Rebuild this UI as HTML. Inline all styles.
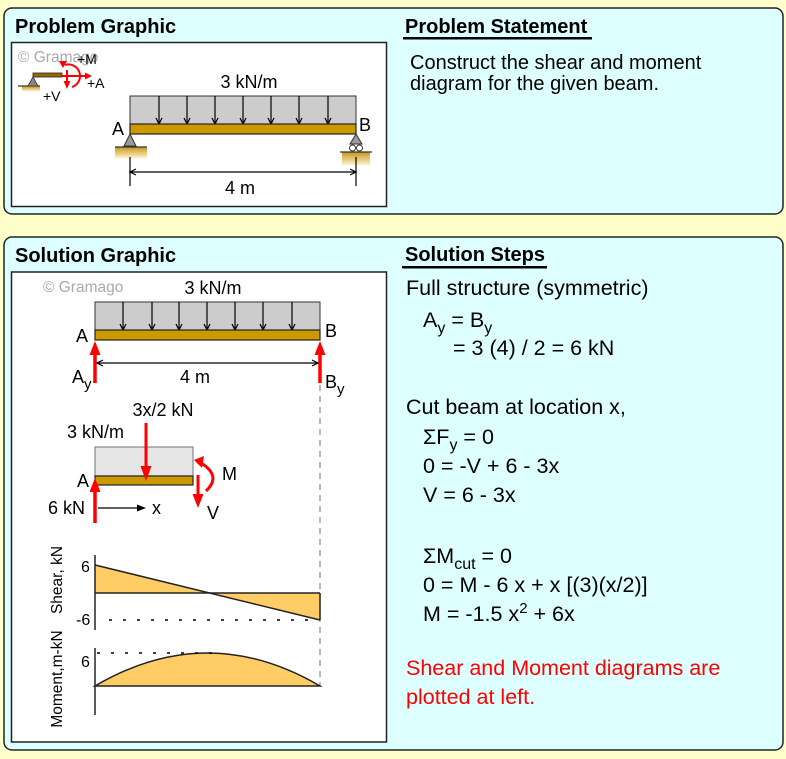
<!DOCTYPE html>
<html><head><meta charset="utf-8"><style>
html,body{margin:0;padding:0;background:#FFFFCC;}
svg{display:block;}
text{font-family:"Liberation Sans",Arial,sans-serif;}
</style></head><body>
<svg width="786" height="759" viewBox="0 0 786 759" xmlns="http://www.w3.org/2000/svg">
<defs>
<linearGradient id="gnd" x1="0" y1="0" x2="0" y2="1">
<stop offset="0" stop-color="#C99A1E"/><stop offset="1" stop-color="#FFF6D8"/>
</linearGradient>
</defs>
<rect x="0" y="0" width="786" height="759" fill="#FFFFCC"/>
<!-- Panels -->
<rect x="4" y="8" width="779" height="206" rx="8" fill="#DDFFFF" stroke="#222" stroke-width="1.5"/>
<rect x="4" y="237" width="779" height="513" rx="8" fill="#DDFFFF" stroke="#222" stroke-width="1.5"/>
<rect x="11.5" y="42.5" width="375" height="164" fill="#fff" stroke="#222" stroke-width="1.5"/>
<rect x="11.5" y="272" width="375" height="470" fill="#fff" stroke="#222" stroke-width="1.5"/>

<!-- Headings -->
<text x="15" y="33" font-size="20" font-weight="bold" fill="#000">Problem Graphic</text>
<text x="405" y="33" font-size="20" font-weight="bold" fill="#000">Problem Statement</text>
<rect x="403" y="37" width="189" height="2.5" fill="#000"/>
<text x="15" y="262" font-size="20" font-weight="bold" fill="#000">Solution Graphic</text>
<text x="405" y="261" font-size="20" font-weight="bold" fill="#000">Solution Steps</text>
<rect x="402" y="266" width="145" height="2.5" fill="#000"/>

<!-- Problem statement -->
<text x="410" y="69" font-size="20" fill="#000">Construct the shear and moment</text>
<text x="410" y="90" font-size="20" fill="#000">diagram for the given beam.</text>

<!-- Solution steps -->
<g font-size="21.5" fill="#000">
<text x="406" y="295">Full structure (symmetric)</text>
<text x="423" y="327">A<tspan font-size="16" dy="6">y</tspan><tspan dy="-6"> = B</tspan><tspan font-size="16" dy="6">y</tspan></text>
<text x="453" y="355">= 3 (4) / 2 = 6 kN</text>
<text x="406" y="414">Cut beam at location x,</text>
<text x="423" y="444">ΣF<tspan font-size="16" dy="6">y</tspan><tspan dy="-6"> = 0</tspan></text>
<text x="423" y="473">0 = -V + 6 - 3x</text>
<text x="423" y="502">V = 6 - 3x</text>
<text x="423" y="563">ΣM<tspan font-size="16" dy="6">cut</tspan><tspan dy="-6"> = 0</tspan></text>
<text x="423" y="592">0 = M - 6 x + x [(3)(x/2)]</text>
<text x="423" y="621">M = -1.5 x<tspan font-size="15" dy="-8">2</tspan><tspan dy="8"> + 6x</tspan></text>
<text x="406" y="675" fill="#FF0000">Shear and Moment diagrams are</text>
<text x="406" y="704" fill="#FF0000">plotted at left.</text>
</g>

<!-- ===== Problem graphic ===== -->
<text x="18" y="62" font-size="15.5" fill="#AAAAAA">© Gramago</text>
<!-- sign convention icon -->
<line x1="18" y1="86" x2="40" y2="86" stroke="#333" stroke-width="1.2"/>
<rect x="22" y="86.5" width="18" height="5" fill="url(#gnd)"/>
<polygon points="33,77 28,86 38,86" fill="#888" stroke="#333" stroke-width="0.8"/>
<rect x="33" y="73" width="29" height="4" fill="#996600" stroke="#222" stroke-width="0.8"/>
<line x1="67" y1="70" x2="67" y2="82" stroke="#FF0000" stroke-width="2"/>
<polygon points="63.5,81 70.5,81 67,89" fill="#FF0000"/>
<line x1="61" y1="76" x2="85" y2="76" stroke="#FF0000" stroke-width="2"/>
<polygon points="85,72.5 85,79.5 92,76" fill="#FF0000"/>
<path d="M72 87 A11 11 0 0 0 65 65" fill="none" stroke="#FF0000" stroke-width="2"/>
<polygon points="59,61 67,61 63,68" fill="#FF0000"/>
<text x="77" y="64" font-size="14" fill="#000">+M</text>
<text x="87" y="88" font-size="14" fill="#000">+A</text>
<text x="43" y="101" font-size="14" fill="#000">+V</text>

<!-- main beam -->
<text x="249" y="88" font-size="18" text-anchor="middle" fill="#000">3 kN/m</text>
<rect x="130" y="96" width="226" height="28" fill="#CCCCCC" stroke="#333" stroke-width="1"/>
<g stroke="#000" stroke-width="1.2">
<line x1="159" y1="96" x2="159" y2="122"/><line x1="187" y1="96" x2="187" y2="122"/>
<line x1="215" y1="96" x2="215" y2="122"/><line x1="243" y1="96" x2="243" y2="122"/>
<line x1="271" y1="96" x2="271" y2="122"/><line x1="299" y1="96" x2="299" y2="122"/>
<line x1="328" y1="96" x2="328" y2="122"/>
</g>
<g fill="none" stroke="#000" stroke-width="1.2">
<polyline points="156,118 159,124 162,118"/><polyline points="184,118 187,124 190,118"/>
<polyline points="212,118 215,124 218,118"/><polyline points="240,118 243,124 246,118"/>
<polyline points="268,118 271,124 274,118"/><polyline points="296,118 299,124 302,118"/>
<polyline points="325,118 328,124 331,118"/>
</g>
<rect x="130" y="124" width="226" height="10" fill="#CC9900" stroke="#222" stroke-width="1.2"/>
<text x="112" y="135" font-size="18" fill="#000">A</text>
<text x="359" y="131" font-size="18" fill="#000">B</text>
<!-- support A -->
<rect x="115" y="147.5" width="32" height="11" fill="url(#gnd)"/>
<line x1="115" y1="147" x2="147" y2="147" stroke="#333" stroke-width="1.2"/>
<polygon points="130,134 124,146 136,146" fill="#999" stroke="#333" stroke-width="1"/>
<!-- support B -->
<rect x="342" y="152.5" width="28" height="13" fill="url(#gnd)"/>
<line x1="340" y1="152" x2="372" y2="152" stroke="#333" stroke-width="1.2"/>
<polygon points="356,134 350,144 362,144" fill="#999" stroke="#333" stroke-width="1"/>
<circle cx="352.5" cy="148" r="3" fill="#fff" stroke="#333" stroke-width="1"/>
<circle cx="359.5" cy="148" r="3" fill="#fff" stroke="#333" stroke-width="1"/>
<!-- dimension -->
<g stroke="#000" stroke-width="1.2" fill="none">
<line x1="130" y1="157" x2="130" y2="186"/><line x1="356" y1="157" x2="356" y2="186"/>
<line x1="130" y1="172" x2="356" y2="172"/>
<polyline points="136,169 130,172 136,175"/><polyline points="350,169 356,172 350,175"/>
</g>
<text x="240" y="194" font-size="18" text-anchor="middle" fill="#000">4 m</text>

<!-- ===== Solution graphic ===== -->
<text x="43" y="292" font-size="15.5" fill="#AAAAAA">© Gramago</text>
<text x="213" y="294" font-size="18" text-anchor="middle" fill="#000">3 kN/m</text>
<rect x="95" y="302" width="225" height="28" fill="#CCCCCC" stroke="#333" stroke-width="1"/>
<g stroke="#000" stroke-width="1.2">
<line x1="123" y1="302" x2="123" y2="328"/><line x1="152" y1="302" x2="152" y2="328"/>
<line x1="179" y1="302" x2="179" y2="328"/><line x1="207" y1="302" x2="207" y2="328"/>
<line x1="235" y1="302" x2="235" y2="328"/><line x1="263" y1="302" x2="263" y2="328"/>
<line x1="292" y1="302" x2="292" y2="328"/>
</g>
<g fill="none" stroke="#000" stroke-width="1.2">
<polyline points="120,324 123,330 126,324"/><polyline points="149,324 152,330 155,324"/>
<polyline points="176,324 179,330 182,324"/><polyline points="204,324 207,330 210,324"/>
<polyline points="232,324 235,330 238,324"/><polyline points="260,324 263,330 266,324"/>
<polyline points="289,324 292,330 295,324"/>
</g>
<rect x="95" y="330" width="225" height="10" fill="#CC9900" stroke="#222" stroke-width="1.2"/>
<text x="76" y="342" font-size="18" fill="#000">A</text>
<text x="325" y="337" font-size="18" fill="#000">B</text>
<!-- dashed line -->
<line x1="320" y1="385" x2="320" y2="686" stroke="#888" stroke-width="1.2" stroke-dasharray="6,5"/>
<!-- reactions -->
<line x1="95" y1="383" x2="95" y2="353" stroke="#FF0000" stroke-width="3.5"/>
<polygon points="95,341 89.5,355 100.5,355" fill="#FF0000"/>
<line x1="320" y1="383" x2="320" y2="353" stroke="#FF0000" stroke-width="3.5"/>
<polygon points="320,341 314.5,355 325.5,355" fill="#FF0000"/>
<!-- dimension -->
<line x1="97" y1="363" x2="318" y2="363" stroke="#000" stroke-width="1.2"/>
<polyline points="103,360 97,363 103,366" fill="none" stroke="#000" stroke-width="1.2"/>
<polyline points="312,360 318,363 312,366" fill="none" stroke="#000" stroke-width="1.2"/>
<text x="195" y="383" font-size="18" text-anchor="middle" fill="#000">4 m</text>
<text x="72" y="383" font-size="18" fill="#000">A<tspan font-size="15" dy="6">y</tspan></text>
<text x="325" y="388" font-size="18" fill="#000">B<tspan font-size="15" dy="6">y</tspan></text>

<!-- free body -->
<text x="163" y="416" font-size="18" text-anchor="middle" fill="#000">3x/2 kN</text>
<text x="67" y="438" font-size="18" fill="#000">3 kN/m</text>
<rect x="95" y="447" width="98" height="29" fill="#E6E6E6" stroke="#888" stroke-width="1.2"/>
<rect x="95" y="476" width="98" height="9" fill="#CC9900" stroke="#222" stroke-width="1.2"/>
<line x1="146" y1="423" x2="146" y2="467" stroke="#FF0000" stroke-width="3"/>
<polygon points="146,481 140.5,466 151.5,466" fill="#FF0000"/>
<text x="77" y="487" font-size="18" fill="#000">A</text>
<line x1="95" y1="523" x2="95" y2="490" stroke="#FF0000" stroke-width="3.5"/>
<polygon points="95,478 89.5,492 100.5,492" fill="#FF0000"/>
<text x="48" y="514" font-size="18" fill="#000">6 kN</text>
<line x1="98" y1="508" x2="139" y2="508" stroke="#000" stroke-width="1.2"/>
<polygon points="146,508 137,504.5 137,511.5" fill="#000"/>
<text x="152" y="514" font-size="18" fill="#000">x</text>
<line x1="198" y1="475" x2="198" y2="495" stroke="#FF0000" stroke-width="3"/>
<polygon points="198,508 192.5,494 203.5,494" fill="#FF0000"/>
<path d="M206 491 Q222 476 201 463" fill="none" stroke="#FF0000" stroke-width="3"/>
<polygon points="194,460 204,456 202,468" fill="#FF0000"/>
<text x="222" y="480" font-size="18" fill="#000">M</text>
<text x="207" y="519" font-size="18" fill="#000">V</text>

<!-- Shear diagram -->
<polygon points="95,565 207.5,593 95,593" fill="#FFCC66"/>
<polygon points="207.5,593 320,620 320,593" fill="#FFCC66"/>
<g stroke="#222" stroke-width="1.5" fill="none">
<line x1="95" y1="555" x2="95" y2="630"/>
<line x1="95" y1="593" x2="320" y2="593"/>
<line x1="95" y1="565" x2="320" y2="620"/>
<line x1="320" y1="593" x2="320" y2="620"/>
</g>
<line x1="109" y1="620" x2="318" y2="620" stroke="#000" stroke-width="1.6" stroke-dasharray="3,11"/>
<text x="81" y="572" font-size="16" fill="#000">6</text>
<text x="76" y="625" font-size="16" fill="#000">-6</text>
<text transform="translate(62,580) rotate(-90)" font-size="15.5" text-anchor="middle" fill="#000">Shear, kN</text>

<!-- Moment diagram -->
<path d="M95 686 Q207.5 620 320 686 Z" fill="#FFCC66" stroke="#222" stroke-width="1.5"/>
<line x1="95" y1="648" x2="95" y2="715" stroke="#222" stroke-width="1.5"/>
<line x1="97" y1="653" x2="220" y2="653" stroke="#000" stroke-width="1.6" stroke-dasharray="3,11"/>
<text x="81" y="667" font-size="16" fill="#000">6</text>
<text transform="translate(62,679) rotate(-90)" font-size="15.5" text-anchor="middle" fill="#000">Moment,m-kN</text>
</svg>
</body></html>
